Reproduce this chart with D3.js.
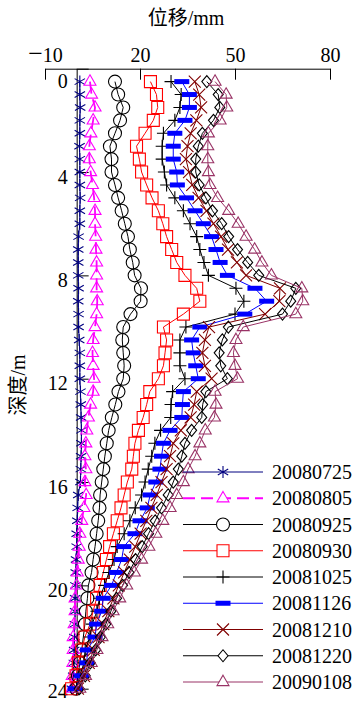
<!DOCTYPE html>
<html>
<head>
<meta charset="utf-8">
<script src="https://cdn.jsdelivr.net/npm/d3@7"></script>
<style>
  body { margin: 0; background: #fff; }
  svg { display: block; }
  svg text { font-family: "Liberation Serif", "DejaVu Serif", "Times New Roman", "Noto Sans CJK SC", serif !important; }
</style>
</head>
<body>
<div id="chart"></div>
<script>
// depth (m) of every reading
const depths = [0.5, 1, 1.5, 2, 2.5, 3, 3.5, 4, 4.5, 5, 5.5, 6, 6.5, 7, 7.5, 8,
    8.5, 9, 9.5, 10, 10.5, 11, 11.5, 12, 12.5, 13, 13.5, 14, 14.5, 15, 15.5, 16,
    16.5, 17, 17.5, 18, 18.5, 19, 19.5, 20, 20.5, 21, 21.5, 22, 22.5, 23, 23.5, 24];

const seriesNames = ['20080725', '20080805', '20080925', '20080930', '20081025',
    '20081126', '20081210', '20081220', '20090108'];

// displacement (mm) per date
const s20080725 = [1.0, 1.0, 1.1, 1.0, 1.0, 0.9, 1.0, 1.0, 1.0, 1.1, 1.0, 1.0, 0.6, 0.5, 0.5, 0.5,
    0.6, 0.5, 0.6, 0.6, 0.8, 1.0, 1.0, 1.0, 1.2, 1.3, 1.4, 1.5, 1.5, 1.4, 1.3, 1.2,
    0.5, 0.3, 0.2, 0.0, 0.0, -0.2, -0.3, -0.4, -0.5, -0.5, -0.6, -0.7, -0.8, -0.9, -1.1, -1.5];
const s20080805 = [4.2, 4.7, 5.8, 5.2, 4.5, 4.0, 4.0, 4.4, 5.0, 5.5, 5.8, 5.8, 6.0, 6.1, 6.3, 6.3,
    6.3, 6.5, 6.3, 5.8, 5.2, 5.0, 5.2, 5.5, 5.2, 4.4, 3.7, 3.2, 2.9, 2.6, 2.9, 2.6,
    3.0, 2.3, 1.6, 1.0, 0.8, 0.5, 0.2, 0.0, -0.5, -0.5, -0.8, -1.1, -1.1, -1.2, -1.4, -1.5];
const s20080925 = [12.1, 13.1, 14.7, 13.7, 12.1, 10.5, 11.0, 11.0, 12.1, 13.1, 14.2, 15.2, 16.2, 16.8, 17.7, 18.3,
    20.3, 20.2, 17.0, 14.7, 14.4, 14.7, 15.0, 14.7, 13.2, 12.2, 11.1, 10.1, 9.5, 8.9, 8.4, 7.9,
    7.4, 7.2, 6.8, 6.3, 5.8, 5.2, 4.7, 3.7, 3.4, 2.9, 2.6, 2.1, 1.6, 1.0, 0.4, -0.2];
const s20080930 = [23.3, 25.2, 25.6, 24.2, 21.6, 18.9, 19.8, 20.5, 22.1, 23.8, 25.8, 27.2, 28.4, 30.0, 31.6, 34.2,
    37.9, 38.9, 33.7, 27.4, 28.4, 27.9, 27.4, 25.8, 23.1, 22.1, 21.0, 19.5, 18.4, 17.9, 17.4, 16.0,
    15.0, 14.0, 12.8, 11.6, 10.4, 9.4, 8.4, 7.4, 6.3, 5.2, 4.2, 2.6, 1.6, 0.5, -0.2, -1.6];
const s20081025 = [29.8, 33.0, 32.6, 31.0, 27.4, 27.0, 27.0, 27.7, 28.4, 31.0, 33.7, 35.8, 37.9, 38.9, 40.2, 41.6,
    50.3, 52.8, 50.0, 34.5, 32.6, 32.6, 32.6, 34.2, 30.3, 29.8, 29.7, 26.5, 24.7, 23.7, 22.6, 21.6,
    20.5, 18.5, 16.8, 15.0, 12.8, 11.8, 10.2, 8.8, 7.2, 6.4, 4.9, 4.2, 2.7, 2.3, 1.0, 0.0];
const s20081126 = [33.2, 35.6, 35.6, 34.2, 31.0, 30.5, 30.5, 31.6, 31.8, 34.7, 37.4, 40.0, 42.6, 44.0, 45.3, 47.6,
    56.3, 60.0, 53.1, 38.9, 36.3, 36.8, 37.6, 38.4, 33.7, 33.4, 33.2, 29.5, 27.4, 26.8, 26.3, 25.0,
    23.2, 22.3, 20.0, 18.4, 14.9, 14.2, 12.6, 11.0, 8.4, 7.9, 6.3, 5.8, 3.4, 3.2, 1.6, -0.5];
const s20081210 = [37.3, 38.7, 39.3, 37.8, 36.0, 35.0, 34.5, 35.5, 36.5, 38.5, 41.0, 43.2, 45.6, 47.8, 50.6, 53.5,
    64.2, 64.0, 59.5, 41.8, 40.5, 39.7, 40.5, 42.6, 37.9, 37.1, 36.0, 32.9, 30.5, 29.5, 28.4, 26.8,
    25.3, 23.6, 22.0, 20.2, 18.5, 16.8, 15.0, 13.3, 11.6, 10.0, 8.4, 6.9, 5.4, 3.8, 2.3, 0.4];
const s20081220 = [41.1, 44.7, 45.2, 43.2, 39.7, 38.4, 37.6, 37.6, 38.7, 40.8, 42.9, 45.8, 48.0, 50.8, 54.0, 57.5,
    69.2, 67.6, 65.0, 47.9, 46.0, 45.0, 45.5, 47.6, 40.8, 39.8, 39.5, 36.3, 34.2, 33.2, 32.1, 30.5,
    28.9, 26.8, 24.8, 22.7, 20.7, 18.6, 16.5, 14.5, 12.6, 10.8, 9.2, 7.5, 6.0, 4.3, 2.7, 0.8];
const s20090108 = [43.7, 47.2, 47.4, 45.3, 41.6, 41.4, 41.4, 41.6, 42.1, 44.5, 48.0, 51.0, 53.5, 56.2, 58.5, 61.5,
    71.1, 71.4, 69.2, 52.6, 50.3, 49.5, 50.0, 50.8, 43.7, 44.0, 43.5, 40.6, 38.9, 37.4, 35.2, 33.7,
    31.6, 29.5, 27.2, 25.0, 22.8, 20.5, 18.2, 15.8, 13.6, 11.5, 9.8, 8.0, 6.4, 4.6, 2.8, 1.0];

const seriesValues = [s20080725, s20080805, s20080925, s20080930, s20081025,
    s20081126, s20081210, s20081220, s20090108];

const xTicks = [-10, 20, 50, 80];
const yTicks = [0, 4, 8, 12, 16, 20, 24];

const FONT = '"Liberation Serif", "DejaVu Serif", "Times New Roman", "Noto Sans CJK SC", serif';

// marker shapes, centred on 0,0
const markers = {
    star: 'M0,-6V6M-5.2,-3L5.2,3M-5.2,3L5.2,-3',
    triangle: 'M0,-6.8L6,3.6L-6,3.6Z',
    circle: 'M6.5,0A6.5,6.5 0 1,1 -6.5,0A6.5,6.5 0 1,1 6.5,0Z',
    square: 'M-6,-6H6V6H-6Z',
    plus: 'M-6.5,0H6.5M0,-6.5V6.5',
    bar: 'M-7.5,-2.5H7.5V2.5H-7.5Z',
    cross: 'M-6,-6L6,6M-6,6L6,-6',
    diamond: 'M0,-6L5,0L0,6L-5,0Z',
};

const styles = [
    { color: '#000080', marker: 'star' },
    { color: '#ff00ff', marker: 'triangle', dash: '12,6', width: 1.8 },
    { color: '#000000', marker: 'circle' },
    { color: '#ff0000', marker: 'square' },
    { color: '#000000', marker: 'plus' },
    { color: '#0000ff', marker: 'bar', fill: true },
    { color: '#800000', marker: 'cross' },
    { color: '#000000', marker: 'diamond' },
    { color: '#993366', marker: 'triangle' },
];

const W = 354, H = 702;
const svg = d3.select('#chart').append('svg').attr('width', W).attr('height', H)
    .attr('font-family', FONT);

const x = d3.scaleLinear().domain([-10, 80]).range([45, 330]);
const y = d3.scaleLinear().domain([0, 24]).range([68.7, 688.7]);

// top axis
const xAxis = svg.append('g')
    .attr('transform', `translate(0,${y(0)})`)
    .call(d3.axisTop(x).tickValues(xTicks).tickSizeInner(-11).tickSizeOuter(0).tickPadding(7));
xAxis.attr('font-family', FONT);
xAxis.selectAll('text').attr('font-size', 20).attr('fill', '#000')
    .text(null)
    .each(function (d) {
        const t = d3.select(this);
        if (d < 0) {
            t.append('tspan').attr('font-size', 26).text('\u2212');
            t.append('tspan').text(Math.abs(d));
        } else {
            t.text(d);
        }
    });

// left axis
const yAxis = svg.append('g')
    .attr('transform', `translate(${x(0)},0)`)
    .call(d3.axisLeft(y).tickValues(yTicks).tickSizeInner(-12).tickSizeOuter(0).tickPadding(9));
yAxis.attr('font-family', FONT);
yAxis.selectAll('text').attr('font-size', 20).attr('fill', '#000')
    .attr('dy', d => (d === 0 ? '0.92em' : d === 24 ? '0.42em' : '0.55em'));

svg.selectAll('.domain, .tick line').attr('stroke', '#000').attr('stroke-width', 1);

svg.append('text').attr('x', 186).attr('y', 25).attr('text-anchor', 'middle')
    .attr('font-size', 20).text('位移/mm');
svg.append('text').attr('transform', 'translate(25,385) rotate(-90)').attr('text-anchor', 'middle')
    .attr('font-size', 20).text('深度/m');

// series
const line = d3.line().x(d => x(d.v)).y(d => y(d.d));
const plot = svg.append('g');

seriesValues.forEach((vals, i) => {
    const st = styles[i];
    const pts = vals.map((v, j) => ({ v: v, d: depths[j] }));
    const g = plot.append('g');
    g.append('path').datum(pts)
        .attr('d', line)
        .attr('fill', 'none')
        .attr('stroke', st.color)
        .attr('stroke-width', st.width || 1)
        .attr('stroke-dasharray', st.dash || null);
    g.selectAll('path.m').data(pts).enter().append('path')
        .attr('class', 'm')
        .attr('d', markers[st.marker])
        .attr('transform', d => `translate(${x(d.v)},${y(d.d)})`)
        .attr('fill', st.fill ? st.color : 'none')
        .attr('stroke', st.color)
        .attr('stroke-width', st.fill ? 0 : 1.1);
});

// legend
const legend = svg.append('g');
const lx0 = 183, lx1 = 263, ly0 = 472, lstep = 26.25;
seriesNames.forEach((name, i) => {
    const st = styles[i];
    const ly = ly0 + i * lstep;
    legend.append('line')
        .attr('x1', lx0).attr('x2', lx1).attr('y1', ly).attr('y2', ly)
        .attr('stroke', st.color)
        .attr('stroke-width', st.width || 1)
        .attr('stroke-dasharray', st.dash || null);
    legend.append('path')
        .attr('d', markers[st.marker])
        .attr('transform', `translate(${(lx0 + lx1) / 2},${ly})`)
        .attr('fill', st.fill ? st.color : '#fff')
        .attr('stroke', st.color)
        .attr('stroke-width', st.fill ? 0 : 1.1);
    legend.append('text')
        .attr('x', 272).attr('y', ly + 7)
        .attr('font-size', 20)
        .text(name);
});
</script>
</body>
</html>
